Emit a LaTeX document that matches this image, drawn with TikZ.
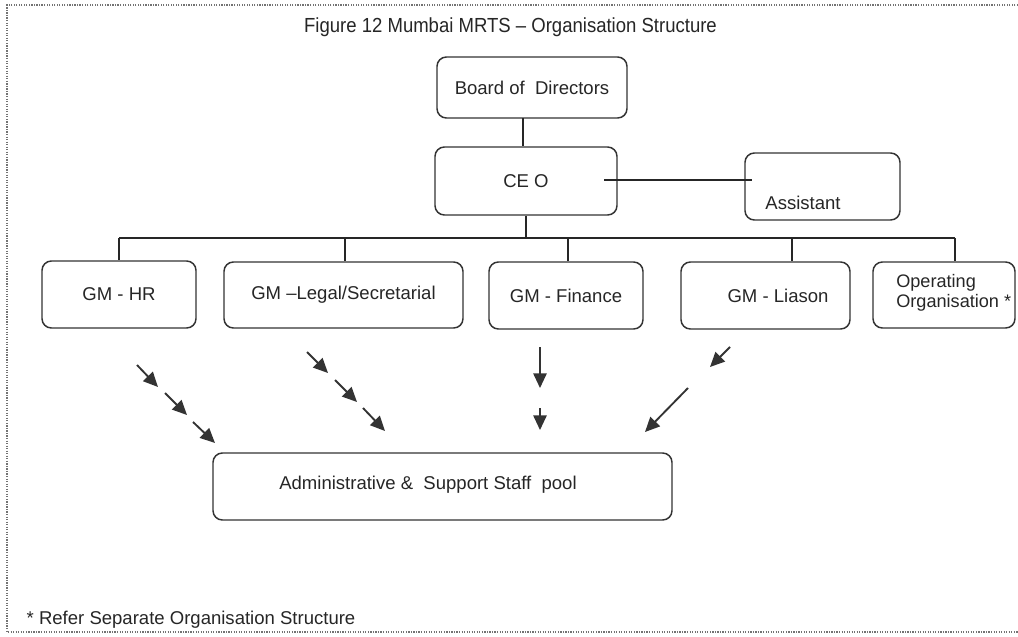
\documentclass[tikz,border=0pt]{standalone}
\usepackage{fontspec}
\setmainfont{Liberation Sans}
\usetikzlibrary{arrows.meta,calc}

\begin{document}
\begin{tikzpicture}[x=0.75pt,y=-0.75pt,
  every node/.style={font=\fontsize{13.9pt}{16pt}\selectfont, text=black!85},
  orgbox/.style 2 args={draw=black!80, line width=1.1pt, rounded corners=7pt,
    inner sep=0pt, minimum width=#1, minimum height=#2},
  link/.style={draw=black!85, line width=1.1pt},
  pointer/.style={draw=black!80, line width=1.4pt,
    -{Triangle[length=11pt,width=10pt]}},
  frameline/.style={draw=black!55, line width=0.9pt, densely dotted},
]
\useasboundingbox (0,0) rectangle (1018,636);
\fill[white] (0,0) rectangle (1018,636);

% dotted page frame (open on the right)
\draw[frameline] (1018,5) -- (7,5) -- (7,632) -- (1018,632);

% title and footnote
\node (title) at (510.5,27) {\scalebox{1}[1.1]{Figure 12 Mumbai MRTS -- Organisation Structure}};
\node[anchor=west] (note) at (22,620) {* Refer Separate Organisation Structure};

% top of the hierarchy
\node[orgbox={142.5pt}{45.75pt}] (board) at (532,87.5) {Board of\ \ Directors};
\node[orgbox={136.5pt}{51pt}] (ceo) at (526,181) {CE O};
\node[orgbox={116.25pt}{50.25pt}] (asst) at (822.5,186.5) {};
\node (asstlbl) at (803,203) {Assistant};

% general managers
\node[orgbox={115.5pt}{50.25pt}] (hr) at (119,294.5) {GM - HR};
\node[orgbox={179.25pt}{49.5pt}] (legal) at (343.5,295) {GM --Legal/Secretarial};
\node[orgbox={115.5pt}{50.25pt}] (fin) at (566,295.5) {GM - Finance};
\node[orgbox={126.75pt}{50.25pt}] (liason) at (765.5,295.5) {};
\node (liasonlbl) at (778,296) {GM - Liason};
\node[orgbox={106.5pt}{49.5pt}] (oper) at (944,295) {};
\node[align=left, anchor=west, inner sep=0pt,
  font=\fontsize{13.6pt}{15pt}\selectfont] (operlbl) at (896,293)
  {Operating\\Organisation *};

% shared staff pool
\node[orgbox={344.25pt}{50.25pt}] (admin) at (442.5,486.5) {};
\node (adminlbl) at (428,485) {Administrative \&\ \ Support Staff\ \ pool};

% reporting lines
\coordinate (boardtap) at (523,118);
\draw[link] (boardtap) -- (boardtap |- ceo.north);
\coordinate (ceotap) at (604,180);
\draw[link] (ceotap) -- ([xshift=6pt]ceotap -| asst.west);
\coordinate (busL) at (119,238);
\coordinate (busR) at (955,238);
\draw[link] (ceo.south) -- (ceo.south |- busL);
\draw[link] (busL) -- (busR);
\coordinate (dHR) at (119,238);
\coordinate (dLegal) at (345,238);
\coordinate (dFin) at (568,238);
\coordinate (dLia) at (792,238);
\coordinate (dOper) at (955,238);
\draw[link] (dHR) -- (dHR |- hr.north);
\draw[link] (dLegal) -- (dLegal |- legal.north);
\draw[link] (dFin) -- (dFin |- fin.north);
\draw[link] (dLia) -- (dLia |- liason.north);
\draw[link] (dOper) -- (dOper |- oper.north);

% support flows towards the staff pool
\coordinate (h1a) at (137,365); \coordinate (h1b) at (158,387);
\coordinate (h2a) at (165,393); \coordinate (h2b) at (187,415);
\coordinate (h3a) at (193,422); \coordinate (h3b) at (215,443);
\draw[pointer] (h1a) -- (h1b);
\draw[pointer] (h2a) -- (h2b);
\draw[pointer] (h3a) -- (h3b);

\coordinate (l1a) at (307,352); \coordinate (l1b) at (328,373);
\coordinate (l2a) at (335,380); \coordinate (l2b) at (357,402);
\coordinate (l3a) at (363,408); \coordinate (l3b) at (385,431);
\draw[pointer] (l1a) -- (l1b);
\draw[pointer] (l2a) -- (l2b);
\draw[pointer] (l3a) -- (l3b);

\coordinate (f1a) at (540,347); \coordinate (f1b) at (540,388);
\coordinate (f2a) at (540,408); \coordinate (f2b) at (540,430);
\draw[pointer] (f1a) -- (f1b);
\draw[pointer] (f2a) -- (f2b);

\coordinate (g1a) at (730,347); \coordinate (g1b) at (710,367);
\coordinate (g2a) at (688,388); \coordinate (g2b) at (645,432);
\draw[pointer] (g1a) -- (g1b);
\draw[pointer] (g2a) -- (g2b);
\end{tikzpicture}
\end{document}
